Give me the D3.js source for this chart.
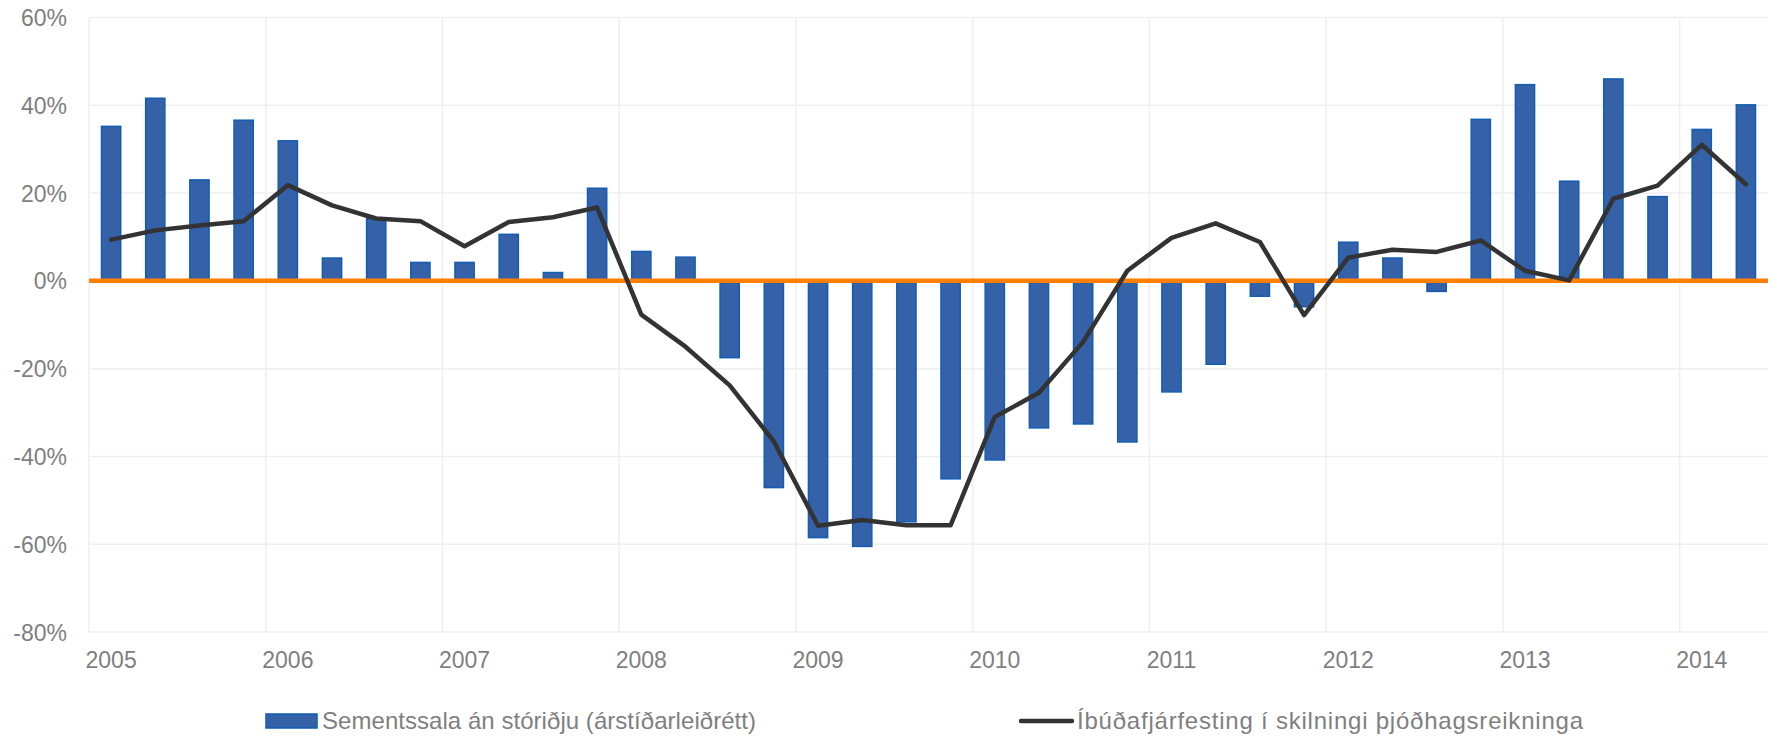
<!DOCTYPE html>
<html>
  <head>
    <meta charset="utf-8">
    <title>Sementssala og íbúðafjárfesting</title>
    <script src="https://cdn.jsdelivr.net/npm/d3@7/dist/d3.min.js"></script>
    <style>
      body { margin: 0; background: #ffffff; }
      text { font-family: "Liberation Sans", Arial, sans-serif; font-size: 23px; fill: #7f7f7f; }
    </style>
  </head>
  <body>
    <div id="chart"></div>
    <script>
      // quarters 2005Q1 - 2014Q2
      var quarters = ["2005Q1","2005Q2","2005Q3","2005Q4","2006Q1","2006Q2","2006Q3","2006Q4",
                      "2007Q1","2007Q2","2007Q3","2007Q4","2008Q1","2008Q2","2008Q3","2008Q4",
                      "2009Q1","2009Q2","2009Q3","2009Q4","2010Q1","2010Q2","2010Q3","2010Q4",
                      "2011Q1","2011Q2","2011Q3","2011Q4","2012Q1","2012Q2","2012Q3","2012Q4",
                      "2013Q1","2013Q2","2013Q3","2013Q4","2014Q1","2014Q2"];

      // Sementssala án stóriðju (árstíðarleiðrétt), % change
      var cement = [35.2, 41.6, 23.0, 36.6, 31.9, 5.2, 14.2, 4.2,
                    4.2, 10.6, 1.9, 21.1, 6.7, 5.4, -17.5, -47.1,
                    -58.5, -60.5, -54.9, -45.1, -40.8, -33.5, -32.6, -36.7,
                    -25.3, -19.0, -3.5, -5.9, 8.8, 5.2, -2.4, 36.8,
                    44.7, 22.7, 46.0, 19.2, 34.5, 40.1];

      // Íbúðafjárfesting í skilningi þjóðhagsreikninga, % change
      var housing = [9.4, 11.5, 12.6, 13.6, 21.8, 17.2, 14.2, 13.6,
                     7.9, 13.4, 14.5, 16.7, -7.7, -15.0, -23.8, -36.6,
                     -55.8, -54.5, -55.7, -55.7, -31.0, -25.5, -13.9, 2.3,
                     9.8, 13.1, 8.85, -7.8, 5.3, 7.1, 6.6, 9.2,
                     2.3, 0.1, 18.7, 21.7, 31.0, 22.0];

      var yTicks = [-80, -60, -40, -20, 0, 20, 40, 60];
      var legendNames = ["Sementssala án stóriðju (árstíðarleiðrétt)", "Íbúðafjárfesting í skilningi þjóðhagsreikninga"];

      var W = 1773, H = 737;
      var plotL = 89, plotR = 1768, plotT = 17.5, plotB = 632;

      var svg = d3.select("#chart").append("svg")
        .attr("width", W)
        .attr("height", H);

      var x = d3.scaleBand()
        .domain(quarters)
        .range([plotL, plotR])
        .paddingInner(0.565)
        .paddingOuter(0.2825);

      var y = d3.scaleLinear()
        .domain([-80, 60])
        .range([plotB, plotT]);

      var step = x.step();
      var half = x.bandwidth() / 2;

      // horizontal grid
      svg.append("g")
        .selectAll("line")
        .data(yTicks)
        .enter().append("line")
        .attr("x1", plotL).attr("x2", plotR)
        .attr("y1", function(d) { return y(d); })
        .attr("y2", function(d) { return y(d); })
        .attr("stroke", "#efefef")
        .attr("stroke-width", 1.5);

      // vertical grid at year starts
      var yearStarts = quarters.filter(function(q) { return q.slice(4) == "Q1"; });
      svg.append("g")
        .selectAll("line")
        .data(yearStarts)
        .enter().append("line")
        .attr("x1", function(d) { return x(d) + half - step / 2; })
        .attr("x2", function(d) { return x(d) + half - step / 2; })
        .attr("y1", plotT).attr("y2", plotB)
        .attr("stroke", "#efefef")
        .attr("stroke-width", 1.5);

      // y axis labels
      var yAxis = d3.axisLeft(y)
        .tickValues(yTicks)
        .tickSize(0)
        .tickPadding(0)
        .tickFormat(function(d) { return d + "%"; });
      var gy = svg.append("g")
        .attr("transform", "translate(67,0)")
        .call(yAxis);
      gy.select(".domain").remove();
      gy.selectAll("text")
        .attr("dy", "0.35em");
      gy.attr("font-family", null).attr("font-size", null);
      gy.selectAll("text").attr("fill", null);

      // x axis labels (first quarter of each year)
      var xAxis = d3.axisBottom(x)
        .tickValues(yearStarts)
        .tickSize(0)
        .tickPadding(0)
        .tickFormat(function(d) { return d.slice(0, 4); });
      var gx = svg.append("g")
        .attr("transform", "translate(0,668)")
        .call(xAxis);
      gx.select(".domain").remove();
      gx.selectAll("text")
        .attr("dy", "0");
      gx.attr("font-family", null).attr("font-size", null);
      gx.selectAll("text").attr("fill", null);

      // bars
      svg.append("g")
        .selectAll("rect")
        .data(cement)
        .enter().append("rect")
        .attr("x", function(d, i) { return x(quarters[i]); })
        .attr("width", x.bandwidth())
        .attr("y", function(d) { return d >= 0 ? y(d) : y(0); })
        .attr("height", function(d) { return Math.abs(y(d) - y(0)); })
        .attr("fill", "#3461a8")
        .attr("stroke", "#125db3")
        .attr("stroke-width", 1.5);

      // zero line
      svg.append("line")
        .attr("x1", plotL).attr("x2", plotR)
        .attr("y1", y(0)).attr("y2", y(0))
        .attr("stroke", "#ff7f00")
        .attr("stroke-width", 4.5);

      // line series
      var line = d3.line()
        .x(function(d, i) { return x(quarters[i]) + half; })
        .y(function(d) { return y(d); });
      svg.append("path")
        .datum(housing)
        .attr("d", line)
        .attr("fill", "none")
        .attr("stroke", "#333333")
        .attr("stroke-width", 4.5)
        .attr("stroke-linejoin", "round")
        .attr("stroke-linecap", "round");

      // legend
      var lg = svg.append("g");
      lg.append("rect")
        .attr("x", 266).attr("y", 714)
        .attr("width", 51).attr("height", 14)
        .attr("fill", "#3461a8")
        .attr("stroke", "#125db3")
        .attr("stroke-width", 1.5);
      lg.append("text")
        .attr("x", 322).attr("y", 721)
        .attr("dy", "0.35em")
        .style("font-size", "24px")
        .attr("textLength", 434)
        .attr("lengthAdjust", "spacing")
        .text(legendNames[0]);
      lg.append("line")
        .attr("x1", 1021).attr("x2", 1072)
        .attr("y1", 721).attr("y2", 721)
        .attr("stroke", "#333333")
        .attr("stroke-width", 4.5)
        .attr("stroke-linecap", "round");
      lg.append("text")
        .attr("x", 1077).attr("y", 721)
        .attr("dy", "0.35em")
        .style("font-size", "24px")
        .attr("textLength", 506)
        .attr("lengthAdjust", "spacing")
        .text(legendNames[1]);
    </script>
  </body>
</html>
